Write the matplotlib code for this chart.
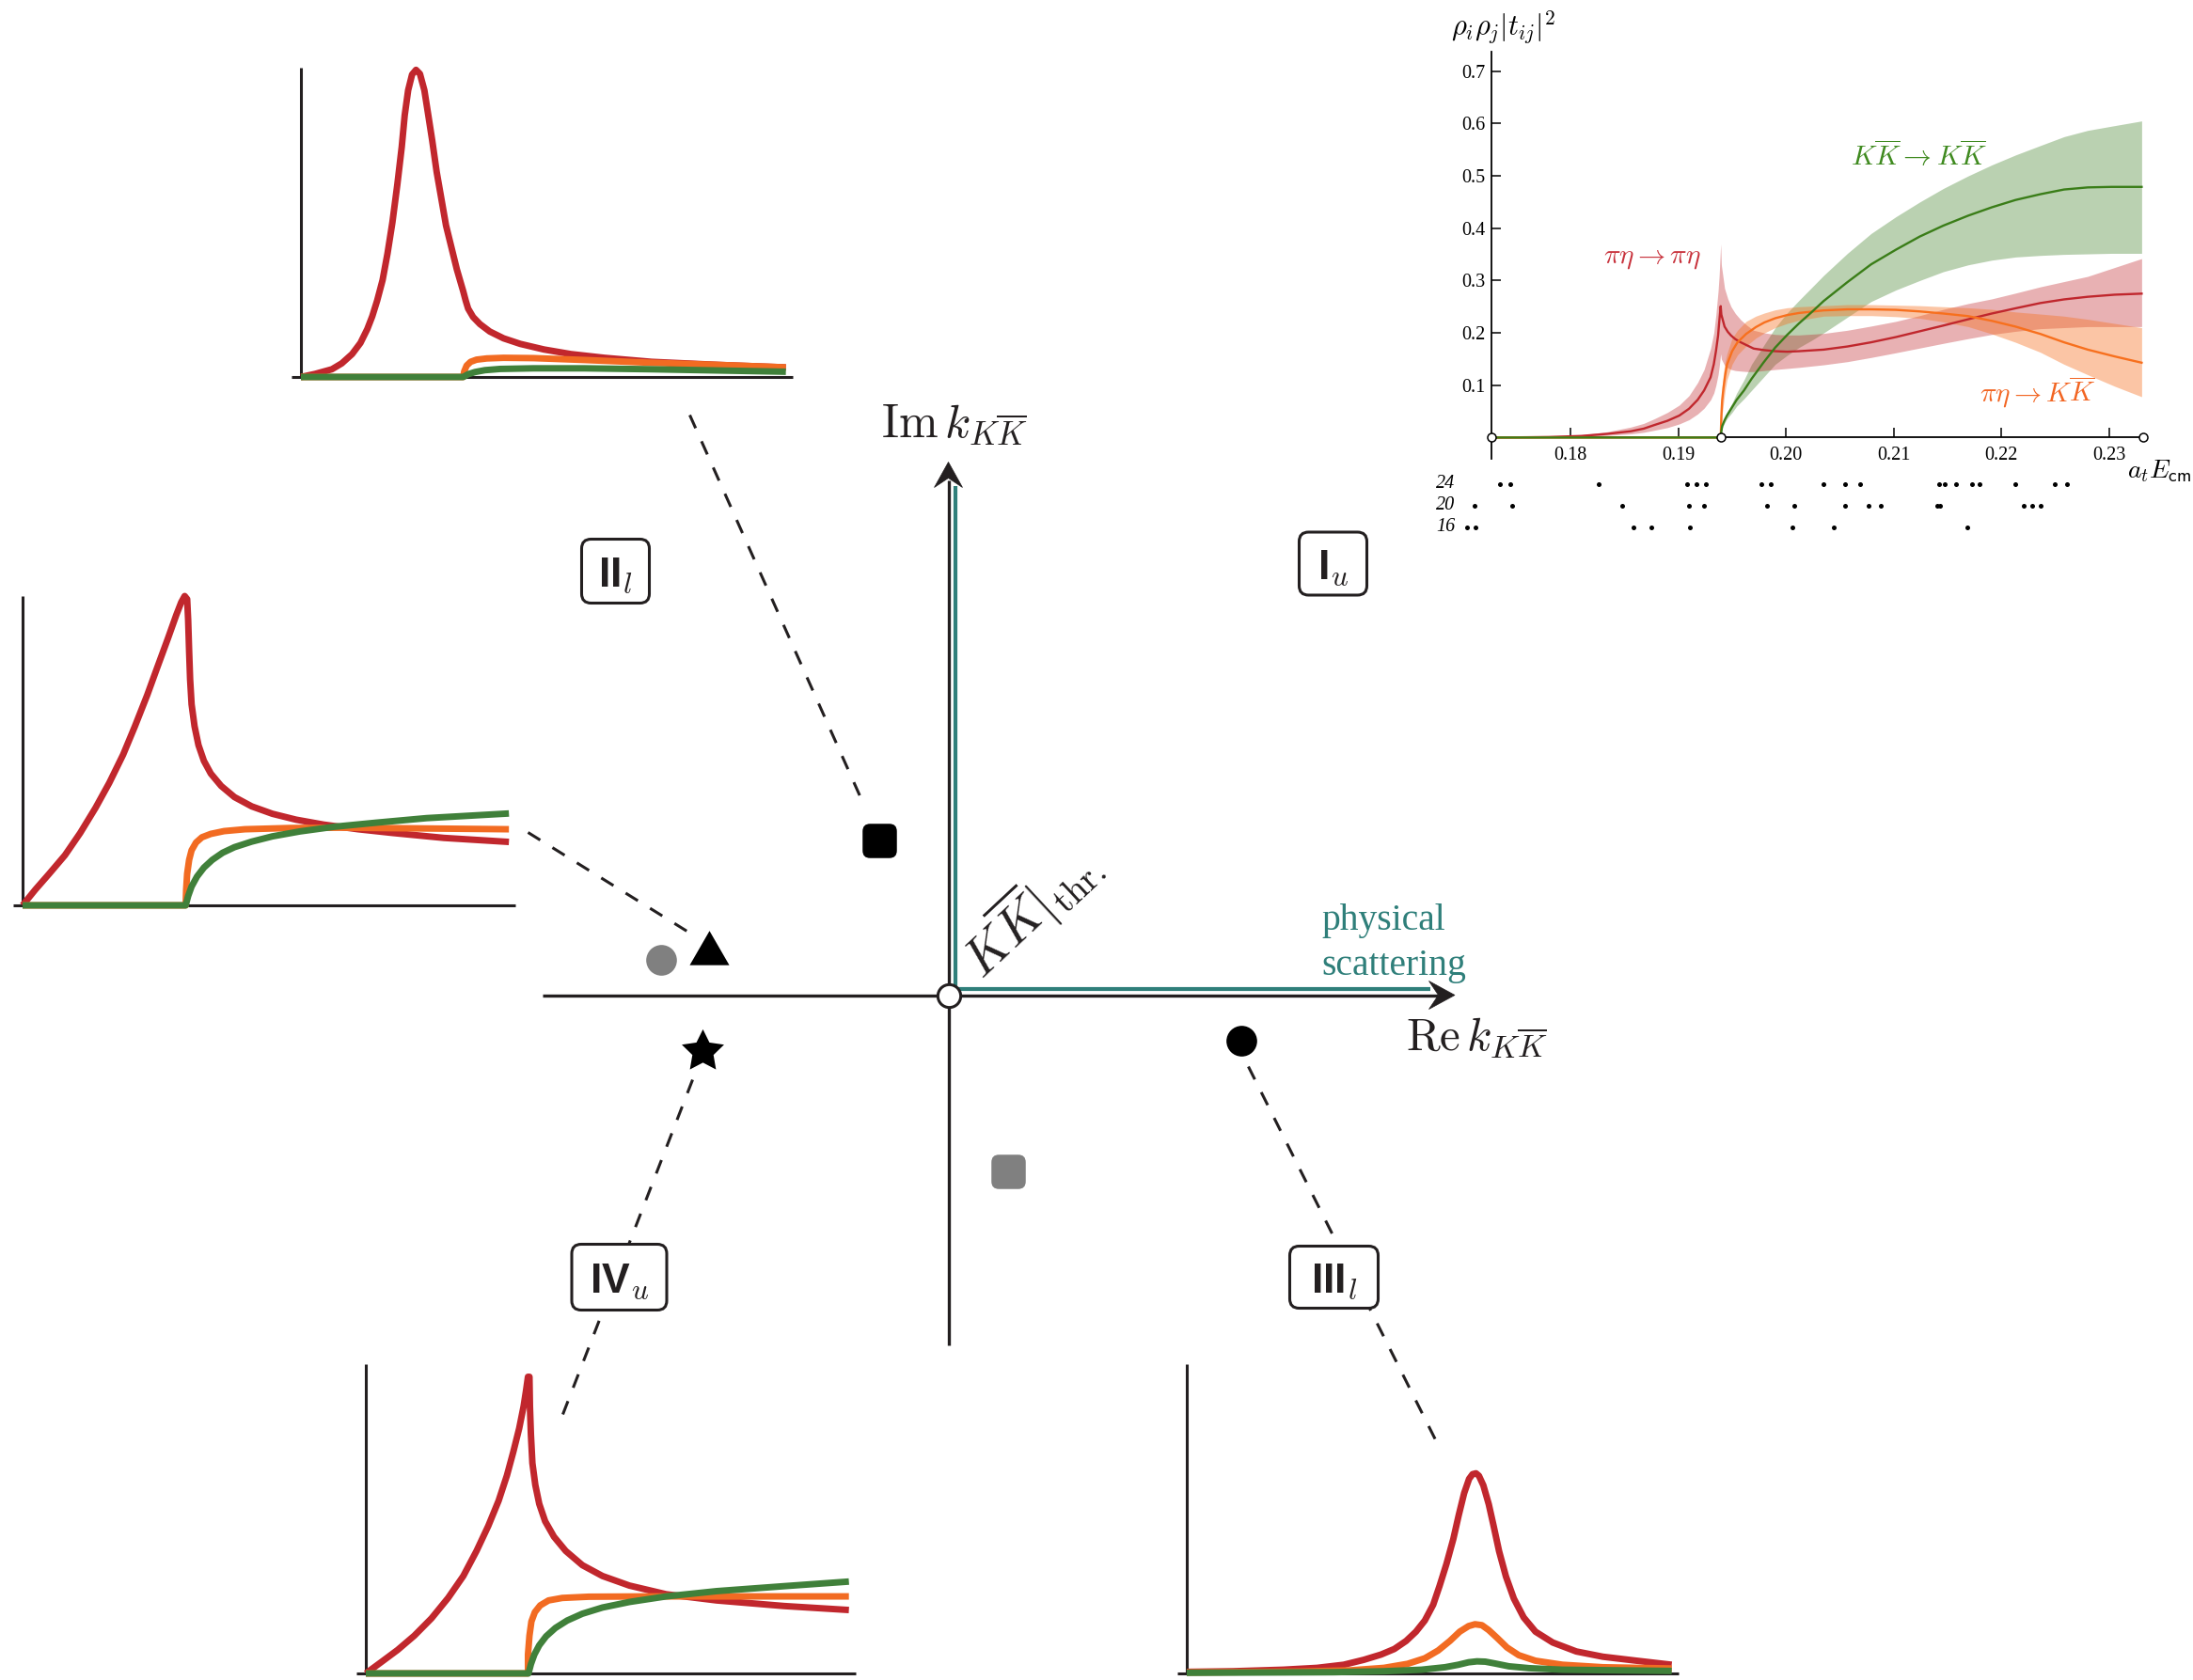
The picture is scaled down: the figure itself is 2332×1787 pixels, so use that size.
import matplotlib
matplotlib.use("Agg")
import matplotlib.pyplot as plt
from matplotlib.patches import FancyBboxPatch, Polygon

plt.rcParams["mathtext.fontset"] = "cm"
plt.rcParams["mathtext.bf"] = "Liberation Sans:bold"
plt.rcParams["mathtext.it"] = "cmmi10"
plt.rcParams["mathtext.rm"] = "Liberation Sans"
plt.rcParams["mathtext.sf"] = "Liberation Sans"

W, H, DPI = 2332, 1787, 100
AXC = "#231F20"
RED, ORANGE, GREEN = "#C1272D", "#F26B22", "#40803A"
TEAL = "#2F7F7A"

# ---------------- data: top-right spectrum (a_t E_cm, rho rho |t|^2) ----------------
E_pe = [0.1727, 0.1760, 0.1780, 0.1810, 0.1834, 0.1856, 0.1868, 0.1878, 0.1890, 0.1901, 0.1910, 0.1918, 0.1924,
        0.1930, 0.1933, 0.1935, 0.1937, 0.1938, 0.19394,
        0.1940, 0.1943, 0.1946, 0.1949, 0.1953, 0.1958, 0.1964, 0.1970, 0.1980, 0.1990, 0.2001, 0.2012, 0.2035,
        0.2057, 0.2079, 0.2102, 0.2124, 0.2146, 0.2169, 0.2191, 0.2213, 0.2236, 0.2258, 0.2280, 0.2305, 0.2330]
pe_c = [0.000, 0.0005, 0.001, 0.003, 0.007, 0.012, 0.017, 0.024, 0.032, 0.042, 0.055, 0.072, 0.090,
        0.115, 0.140, 0.165, 0.195, 0.220, 0.251,
        0.235, 0.212, 0.202, 0.195, 0.188, 0.182, 0.176, 0.170, 0.167, 0.165, 0.164, 0.165, 0.168,
        0.174, 0.182, 0.192, 0.203, 0.214, 0.226, 0.237, 0.247, 0.257, 0.264, 0.269, 0.273, 0.275]
pe_hi = [0.000, 0.001, 0.002, 0.005, 0.011, 0.020, 0.027, 0.036, 0.048, 0.062, 0.080, 0.105, 0.130,
         0.170, 0.200, 0.235, 0.280, 0.310, 0.370,
         0.330, 0.285, 0.265, 0.250, 0.237, 0.225, 0.214, 0.205, 0.200, 0.197, 0.196, 0.196, 0.199,
         0.205, 0.213, 0.222, 0.233, 0.245, 0.256, 0.265, 0.276, 0.288, 0.298, 0.308, 0.325, 0.342]
pe_lo = [0.000, 0.000, 0.000, 0.001, 0.004, 0.007, 0.010, 0.014, 0.019, 0.026, 0.034, 0.045, 0.056,
         0.072, 0.085, 0.100, 0.120, 0.135, 0.160,
         0.150, 0.138, 0.133, 0.130, 0.128, 0.127, 0.126, 0.126, 0.128, 0.130, 0.132, 0.134, 0.139,
         0.145, 0.153, 0.162, 0.171, 0.180, 0.189, 0.197, 0.203, 0.208, 0.210, 0.212, 0.212, 0.212]

E_pk = [0.1727, 0.19394, 0.19397, 0.19400, 0.19404, 0.19408, 0.19420, 0.19435, 0.19452, 0.1950, 0.1955, 0.1963,
        0.1972, 0.1980, 0.1990, 0.2001, 0.2012, 0.2035, 0.2057, 0.2079, 0.2102, 0.2124, 0.2146, 0.2169, 0.2191,
        0.2213, 0.2236, 0.2258, 0.2280, 0.2305, 0.2330]
pk_c = [0.000, 0.000, 0.020, 0.040, 0.057, 0.072, 0.095, 0.118, 0.139, 0.165, 0.182, 0.198,
        0.211, 0.220, 0.228, 0.234, 0.238, 0.243, 0.245, 0.245, 0.244, 0.241, 0.237, 0.232, 0.223,
        0.212, 0.198, 0.182, 0.168, 0.155, 0.143]
pk_hi = [0.000, 0.000, 0.030, 0.060, 0.080, 0.100, 0.125, 0.145, 0.160, 0.190, 0.205, 0.222,
         0.232, 0.238, 0.244, 0.248, 0.250, 0.252, 0.254, 0.254, 0.253, 0.252, 0.250, 0.248, 0.245,
         0.240, 0.236, 0.232, 0.226, 0.218, 0.210]
pk_lo = [0.000, 0.000, 0.010, 0.020, 0.033, 0.045, 0.065, 0.090, 0.110, 0.140, 0.158, 0.175,
         0.190, 0.200, 0.210, 0.218, 0.224, 0.232, 0.233, 0.233, 0.231, 0.228, 0.221, 0.212, 0.198,
         0.182, 0.163, 0.140, 0.120, 0.098, 0.078]

E_kk = [0.1727, 0.19394, 0.19400, 0.19408, 0.19430, 0.19452, 0.1950, 0.19542, 0.1961, 0.1968, 0.1979, 0.1990,
        0.2001, 0.2012, 0.2024, 0.2035, 0.2057, 0.2079, 0.2102, 0.2124, 0.2146, 0.2169, 0.2191, 0.2213, 0.2236,
        0.2258, 0.2280, 0.2302, 0.2330]
kk_c = [0.000, 0.000, 0.012, 0.022, 0.033, 0.042, 0.058, 0.072, 0.090, 0.112, 0.143, 0.172,
        0.196, 0.218, 0.240, 0.261, 0.297, 0.331, 0.359, 0.384, 0.405, 0.424, 0.440, 0.454, 0.465,
        0.474, 0.478, 0.479, 0.479]
kk_hi = [0.000, 0.000, 0.015, 0.026, 0.038, 0.048, 0.066, 0.085, 0.110, 0.140, 0.175, 0.210,
         0.238, 0.262, 0.287, 0.310, 0.352, 0.390, 0.422, 0.450, 0.476, 0.500, 0.521, 0.540, 0.558,
         0.575, 0.587, 0.595, 0.605]
kk_lo = [0.000, 0.000, 0.009, 0.018, 0.028, 0.036, 0.048, 0.060, 0.074, 0.090, 0.115, 0.140,
         0.157, 0.172, 0.186, 0.200, 0.230, 0.260, 0.282, 0.300, 0.317, 0.330, 0.339, 0.345, 0.348,
         0.350, 0.351, 0.352, 0.352]

E_marks = [0.1727, 0.19394, 0.23318]
xticks = [0.18, 0.19, 0.20, 0.21, 0.22, 0.23]
xtick_labels = ["0.18", "0.19", "0.20", "0.21", "0.22", "0.23"]
yticks = [0.1, 0.2, 0.3, 0.4, 0.5, 0.6, 0.7]
ytick_labels = ["0.1", "0.2", "0.3", "0.4", "0.5", "0.6", "0.7"]

volumes = ["24", "20", "16"]
levels = {
    "24": [0.17343, 0.17444, 0.18259, 0.19079, 0.19167, 0.19259, 0.19773, 0.19861, 0.20343, 0.20546,
           0.20685, 0.21417, 0.21472, 0.21574, 0.21727, 0.21796, 0.22130, 0.22491, 0.22606],
    "20": [0.17111, 0.17463, 0.18481, 0.19102, 0.19236, 0.19824, 0.20074, 0.20546, 0.20769, 0.20880,
           0.21407, 0.21426, 0.22204, 0.22282, 0.22361],
    "16": [0.17042, 0.17120, 0.18583, 0.18750, 0.19111, 0.20056, 0.20444, 0.21681],
}

# ---------------- data: schematic mini plots (normalised to their axes) ----------------
red1_u = [0.000, 0.029, 0.063, 0.083, 0.104, 0.121, 0.135, 0.145, 0.155, 0.166, 0.176, 0.186, 0.196, 0.205, 0.211,
          0.218, 0.226, 0.234, 0.242, 0.251, 0.259, 0.267, 0.276, 0.286, 0.295, 0.306, 0.317, 0.330, 0.335, 0.340,
          0.350, 0.364, 0.384, 0.412, 0.446, 0.494, 0.549, 0.617, 0.713, 0.850, 0.986]
red1_v = [0.000, 0.010, 0.025, 0.044, 0.074, 0.110, 0.155, 0.196, 0.247, 0.313, 0.399, 0.500, 0.622, 0.744, 0.846,
          0.927, 0.978, 0.993, 0.980, 0.927, 0.846, 0.764, 0.663, 0.572, 0.490, 0.419, 0.348, 0.277, 0.247, 0.221,
          0.194, 0.171, 0.147, 0.125, 0.107, 0.089, 0.074, 0.062, 0.049, 0.039, 0.031]
orange1_u = [0.000, 0.330, 0.332, 0.337, 0.345, 0.357, 0.378, 0.412, 0.473, 0.576, 0.713, 0.850, 0.986]
orange1_v = [0.000, 0.000, 0.018, 0.037, 0.049, 0.056, 0.060, 0.062, 0.061, 0.055, 0.046, 0.039, 0.031]
green1_u = [0.000, 0.330, 0.340, 0.354, 0.374, 0.405, 0.473, 0.576, 0.713, 0.850, 0.986]
green1_v = [0.000, 0.000, 0.009, 0.016, 0.022, 0.026, 0.028, 0.028, 0.025, 0.021, 0.017]

red2_u = [0.000, 0.026, 0.054, 0.086, 0.117, 0.148, 0.176, 0.204, 0.228, 0.253, 0.274, 0.295, 0.312, 0.322, 0.329,
          0.334, 0.336, 0.338, 0.340, 0.343, 0.349, 0.357, 0.368, 0.382, 0.403, 0.430, 0.465, 0.507, 0.555, 0.611,
          0.681, 0.751, 0.855, 0.987]
red2_v = [0.000, 0.051, 0.102, 0.162, 0.234, 0.315, 0.396, 0.487, 0.579, 0.680, 0.772, 0.863, 0.939, 0.980, 1.000,
          0.990, 0.924, 0.822, 0.731, 0.650, 0.579, 0.518, 0.467, 0.426, 0.386, 0.350, 0.320, 0.296, 0.277, 0.261,
          0.246, 0.234, 0.218, 0.205]
orange2_u = [0.000, 0.331, 0.332, 0.334, 0.338, 0.343, 0.352, 0.364, 0.382, 0.409, 0.451, 0.542, 0.646, 0.786, 0.987]
orange2_v = [0.000, 0.000, 0.051, 0.102, 0.147, 0.178, 0.203, 0.220, 0.231, 0.240, 0.246, 0.250, 0.251, 0.249, 0.246]
green2_u = [0.000, 0.331, 0.336, 0.343, 0.354, 0.368, 0.385, 0.406, 0.430, 0.465, 0.507, 0.563, 0.632, 0.716, 0.820, 0.987]
green2_v = [0.000, 0.000, 0.030, 0.061, 0.093, 0.122, 0.147, 0.170, 0.188, 0.206, 0.223, 0.239, 0.254, 0.267, 0.282, 0.297]

red3_u = [0.000, 0.031, 0.065, 0.099, 0.134, 0.168, 0.199, 0.226, 0.250, 0.271, 0.288, 0.301, 0.313, 0.322, 0.327,
          0.331, 0.334, 0.335, 0.337, 0.340, 0.346, 0.354, 0.366, 0.384, 0.408, 0.442, 0.483, 0.538, 0.613, 0.716,
          0.853, 0.986]
red3_v = [0.000, 0.036, 0.076, 0.122, 0.178, 0.244, 0.315, 0.396, 0.477, 0.558, 0.640, 0.716, 0.792, 0.863, 0.914,
          0.959, 0.959, 0.863, 0.772, 0.680, 0.609, 0.548, 0.492, 0.442, 0.396, 0.350, 0.315, 0.284, 0.256, 0.236,
          0.218, 0.205]
orange3_u = [0.000, 0.331, 0.331, 0.334, 0.338, 0.345, 0.356, 0.373, 0.401, 0.455, 0.579, 0.986]
orange3_v = [0.000, 0.000, 0.061, 0.122, 0.168, 0.198, 0.220, 0.236, 0.244, 0.248, 0.249, 0.249]
green3_u = [0.000, 0.332, 0.337, 0.344, 0.354, 0.368, 0.387, 0.411, 0.442, 0.483, 0.538, 0.613, 0.716, 0.853, 0.986]
green3_v = [0.000, 0.000, 0.030, 0.061, 0.091, 0.120, 0.147, 0.171, 0.193, 0.213, 0.231, 0.249, 0.266, 0.282, 0.297]

red4_u = [0.000, 0.094, 0.196, 0.265, 0.319, 0.360, 0.395, 0.422, 0.446, 0.466, 0.484, 0.501, 0.514, 0.528, 0.542,
          0.553, 0.564, 0.574, 0.581, 0.588, 0.594, 0.603, 0.614, 0.624, 0.635, 0.649, 0.665, 0.685, 0.709, 0.744,
          0.792, 0.846, 0.915, 0.986]
red4_v = [0.005, 0.007, 0.012, 0.018, 0.028, 0.044, 0.061, 0.079, 0.105, 0.135, 0.171, 0.222, 0.283, 0.354, 0.435,
          0.512, 0.583, 0.629, 0.644, 0.647, 0.639, 0.608, 0.547, 0.476, 0.395, 0.313, 0.242, 0.181, 0.135, 0.100,
          0.071, 0.054, 0.041, 0.028]
orange4_u = [0.000, 0.230, 0.333, 0.401, 0.449, 0.484, 0.511, 0.535, 0.555, 0.573, 0.586, 0.600, 0.614, 0.631,
             0.651, 0.675, 0.709, 0.764, 0.846, 0.986]
orange4_v = [0.003, 0.006, 0.010, 0.018, 0.031, 0.049, 0.074, 0.105, 0.135, 0.153, 0.159, 0.156, 0.140, 0.115,
             0.084, 0.059, 0.041, 0.028, 0.020, 0.016]
green4_u = [0.000, 0.299, 0.401, 0.477, 0.525, 0.552, 0.573, 0.590, 0.607, 0.627, 0.655, 0.696, 0.764, 0.986]
green4_v = [0.002, 0.004, 0.007, 0.012, 0.020, 0.028, 0.036, 0.039, 0.038, 0.032, 0.023, 0.017, 0.012, 0.008]

# ---------------- data: poles in the complex k plane (Re k, Im k) ----------------
pole_sq_black = (-0.73, 1.64)
pole_sq_gray = (0.64, -1.88)
pole_circ_gray = (-3.06, 0.38)
pole_triangle = (-2.55, 0.45)
pole_star = (-2.62, -0.59)
pole_circ_black = (3.11, -0.48)

# sheet labels: (text, Re, Im, width, height)
sheets = [(r"$\mathbf{II}_{l}$", -3.54, 4.51, 0.72, 0.68),
          (r"$\mathbf{I}_{u}$", 4.09, 4.59, 0.72, 0.67),
          (r"$\mathbf{III}_{l}$", 4.10, -3.00, 0.94, 0.66),
          (r"$\mathbf{IV}_{u}$", -3.50, -3.00, 1.01, 0.70)]

# connectors (from, to) in k units
connectors = [((-2.75, 6.17), (-0.91, 2.05)),
              ((-4.47, 1.73), (-2.78, 0.68)),
              ((-2.72, -0.90), (-4.10, -4.46)),
              ((3.19, -0.76), (5.18, -4.73))]

# ================= figure =================
fig = plt.figure(figsize=(W / DPI, H / DPI), dpi=DPI)


def px_rect(x0, y0, x1, y1):
    return [x0 / W, 1 - y1 / H, (x1 - x0) / W, (y1 - y0) / H]


OX, OY, S = 1008.5, 1058.5, 100.0
axk = fig.add_axes([0, 0, 1, 1])
axk.set_xlim(-OX / S, (W - OX) / S)
axk.set_ylim(-(H - OY) / S, OY / S)
axk.axis("off")

# axes of the k plane
axk.plot([-4.32, 5.20], [0, 0], color=AXC, lw=2.4, solid_capstyle="butt", zorder=2)
axk.plot([0, 0], [-3.72, 5.48], color=AXC, lw=2.4, solid_capstyle="butt", zorder=2)
axk.add_patch(Polygon([(5.385, 0), (5.11, 0.15), (5.21, 0), (5.11, -0.15)], closed=True, fc=AXC, ec=AXC, lw=0.5, zorder=3))
axk.add_patch(Polygon([(0, 5.67), (-0.15, 5.40), (0, 5.50), (0.15, 5.40)], closed=True, fc=AXC, ec=AXC, lw=0.5, zorder=3))
# physical scattering path
axk.plot([0.075, 5.12], [0.066, 0.066], color=TEAL, lw=3.0, solid_capstyle="butt", zorder=2)
axk.plot([0.075, 0.075], [0.066, 5.42], color=TEAL, lw=3.0, solid_capstyle="butt", zorder=2)
axk.plot([0], [0], "o", ms=17.5, mfc="white", mec=AXC, mew=2.2, zorder=6)

axk.text(0.065, 5.94, r"$\mathrm{Im}\,k_{K\overline{K}}$", fontsize=36, ha="center", va="baseline", color=AXC)
axk.text(4.865, -0.585, r"$\mathrm{Re}\,k_{K\overline{K}}$", fontsize=35, ha="left", va="baseline", color=AXC)
axk.text(3.965, 0.69, "physical", family="Liberation Serif", fontsize=28.5, color=TEAL, ha="left", va="baseline")
axk.text(3.965, 0.22, "scattering", family="Liberation Serif", fontsize=28.5, color=TEAL, ha="left", va="baseline")
axk.text(0.36, 0.16, r"$K\overline{K}|_{\mathrm{thr.}}$", fontsize=40, rotation=43, rotation_mode="anchor",
         ha="left", va="baseline", color=AXC)

# connectors
for (a, b) in connectors:
    axk.plot([a[0], b[0]], [a[1], b[1]], color=AXC, lw=2.2, linestyle=(0, (5, 5)), zorder=1)

# sheet labels
for txt, cx, cy, w, h in sheets:
    axk.add_patch(FancyBboxPatch((cx - w / 2, cy - h / 2), w, h, boxstyle="round,pad=0,rounding_size=0.1",
                                 fc="white", ec=AXC, lw=2.2, zorder=4))
    axk.text(cx, cy - 0.155, txt, math_fontfamily="custom", fontsize=32, ha="center", va="baseline",
             color=AXC, zorder=5)

# poles
for (px, py), col in ((pole_sq_black, "black"), (pole_sq_gray, "#808080")):
    s = 0.365
    axk.add_patch(FancyBboxPatch((px - s / 2, py - s / 2), s, s, boxstyle="round,pad=0,rounding_size=0.08",
                                 fc=col, ec="none", zorder=5))
axk.plot(*pole_circ_gray, "o", ms=23.5, color="#808080", mec="none", zorder=5)
axk.plot(*pole_circ_black, "o", ms=23.5, color="black", mec="none", zorder=5)
axk.plot(*pole_triangle, marker=(3, 0, 0), ms=35, color="black", mec="none", zorder=5)
axk.plot(*pole_star, marker=(5, 1, 0), ms=34, color="black", mec="none", zorder=5)

# ================= mini plots =================
def mini(rect, curves):
    ax = fig.add_axes(px_rect(*rect))
    ax.set_xlim(0, 1)
    ax.set_ylim(0, 1)
    ax.axis("off")
    ax.plot([-0.02, 1.0], [0, 0], color=AXC, lw=2.2, solid_capstyle="butt", clip_on=False, zorder=1)
    ax.plot([0, 0], [0, 1.0], color=AXC, lw=2.2, solid_capstyle="butt", clip_on=False, zorder=1)
    for u, v, c in curves:
        ax.plot(u, v, color=c, lw=5.0, solid_capstyle="butt", solid_joinstyle="round", clip_on=False, zorder=2)


mini((320, 72, 843, 401), [(red1_u, red1_v, RED), (orange1_u, orange1_v, ORANGE), (green1_u, green1_v, GREEN)])
mini((24, 634, 548, 963), [(red2_u, red2_v, RED), (orange2_u, orange2_v, ORANGE), (green2_u, green2_v, GREEN)])
mini((389, 1451, 910, 1780), [(red3_u, red3_v, RED), (orange3_u, orange3_v, ORANGE), (green3_u, green3_v, GREEN)])
mini((1262, 1451, 1785, 1780), [(red4_u, red4_v, RED), (orange4_u, orange4_v, ORANGE), (green4_u, green4_v, GREEN)])

# ================= top-right spectrum =================
def ex(E):
    return 1670 + (E - 0.18) * 11460


def vy(v):
    return 465.4 - v * 556.6


XL, YL = (0.165, 0.236), (-0.2, 0.74)
axt = fig.add_axes(px_rect(ex(XL[0]), vy(YL[1]), ex(XL[1]), vy(YL[0])))
axt.set_xlim(*XL)
axt.set_ylim(*YL)
axt.set_facecolor("none")
for sp in ("top", "right"):
    axt.spines[sp].set_visible(False)
axt.spines["left"].set_position(("data", E_marks[0]))
axt.spines["left"].set_bounds(-0.041, 0.737)
axt.spines["bottom"].set_position(("data", 0))
axt.spines["bottom"].set_bounds(E_marks[0], E_marks[-1])
for sp in ("left", "bottom"):
    axt.spines[sp].set_linewidth(1.3)
    axt.spines[sp].set_color("black")
axt.set_xticks(xticks)
axt.set_xticklabels(xtick_labels)
axt.set_yticks(yticks)
axt.set_yticklabels(ytick_labels)
axt.tick_params(direction="in", length=7, width=1.1, labelsize=14.5)
axt.tick_params(axis="x", pad=7)
axt.tick_params(axis="y", pad=5)
for lab in axt.get_xticklabels() + axt.get_yticklabels():
    lab.set_fontfamily("Liberation Serif")

axt.fill_between(E_kk, kk_lo, kk_hi, color="#3A7D22", alpha=0.35, lw=0, zorder=1)
axt.fill_between(E_pe, pe_lo, pe_hi, color=RED, alpha=0.36, lw=0, zorder=1)
axt.fill_between(E_pk, pk_lo, pk_hi, color="#F7701E", alpha=0.40, lw=0, zorder=1)
axt.plot(E_pe, pe_c, color="#C0272D", lw=1.7, zorder=3)
axt.plot(E_pk, pk_c, color="#F7701E", lw=1.7, zorder=3)
axt.plot(E_kk, kk_c, color="#3A7D18", lw=1.7, zorder=3)
axt.plot(E_marks, [0, 0, 0], "o", ms=6.5, mfc="white", mec="black", mew=1.1, zorder=6, clip_on=False)

axt.text(0.18759, 0.344, r"$\pi\eta\rightarrow\pi\eta$", color="#C8323C", fontsize=21, ha="center", va="center")
axt.text(0.21229, 0.538, r"$K\overline{K}\rightarrow K\overline{K}$", color="#3F8A1F", fontsize=21.5, ha="center", va="center")
axt.text(0.22337, 0.088, r"$\pi\eta\rightarrow K\overline{K}$", color="#F26522", fontsize=21, ha="center", va="center")

row_y = {"24": -0.0891, "20": -0.1304, "16": -0.1717}
for vol in volumes:
    axt.plot(levels[vol], [row_y[vol]] * len(levels[vol]), "o", ms=3.6, color="black", mec="none", clip_on=False)
    axt.text(0.1693, row_y[vol], vol, family="Liberation Serif", style="italic", fontsize=14.5,
             ha="right", va="center", clip_on=False)

fig.text(1543 / W, 1 - 38 / H, r"$\rho_i\rho_j|t_{ij}|^2$", fontsize=22, ha="left", va="baseline")
fig.text(2262 / W, 1 - 508 / H, r"$a_t E_{\mathsf{cm}}$", fontsize=20, ha="left", va="baseline")

fig.savefig("out.png", dpi=DPI)
